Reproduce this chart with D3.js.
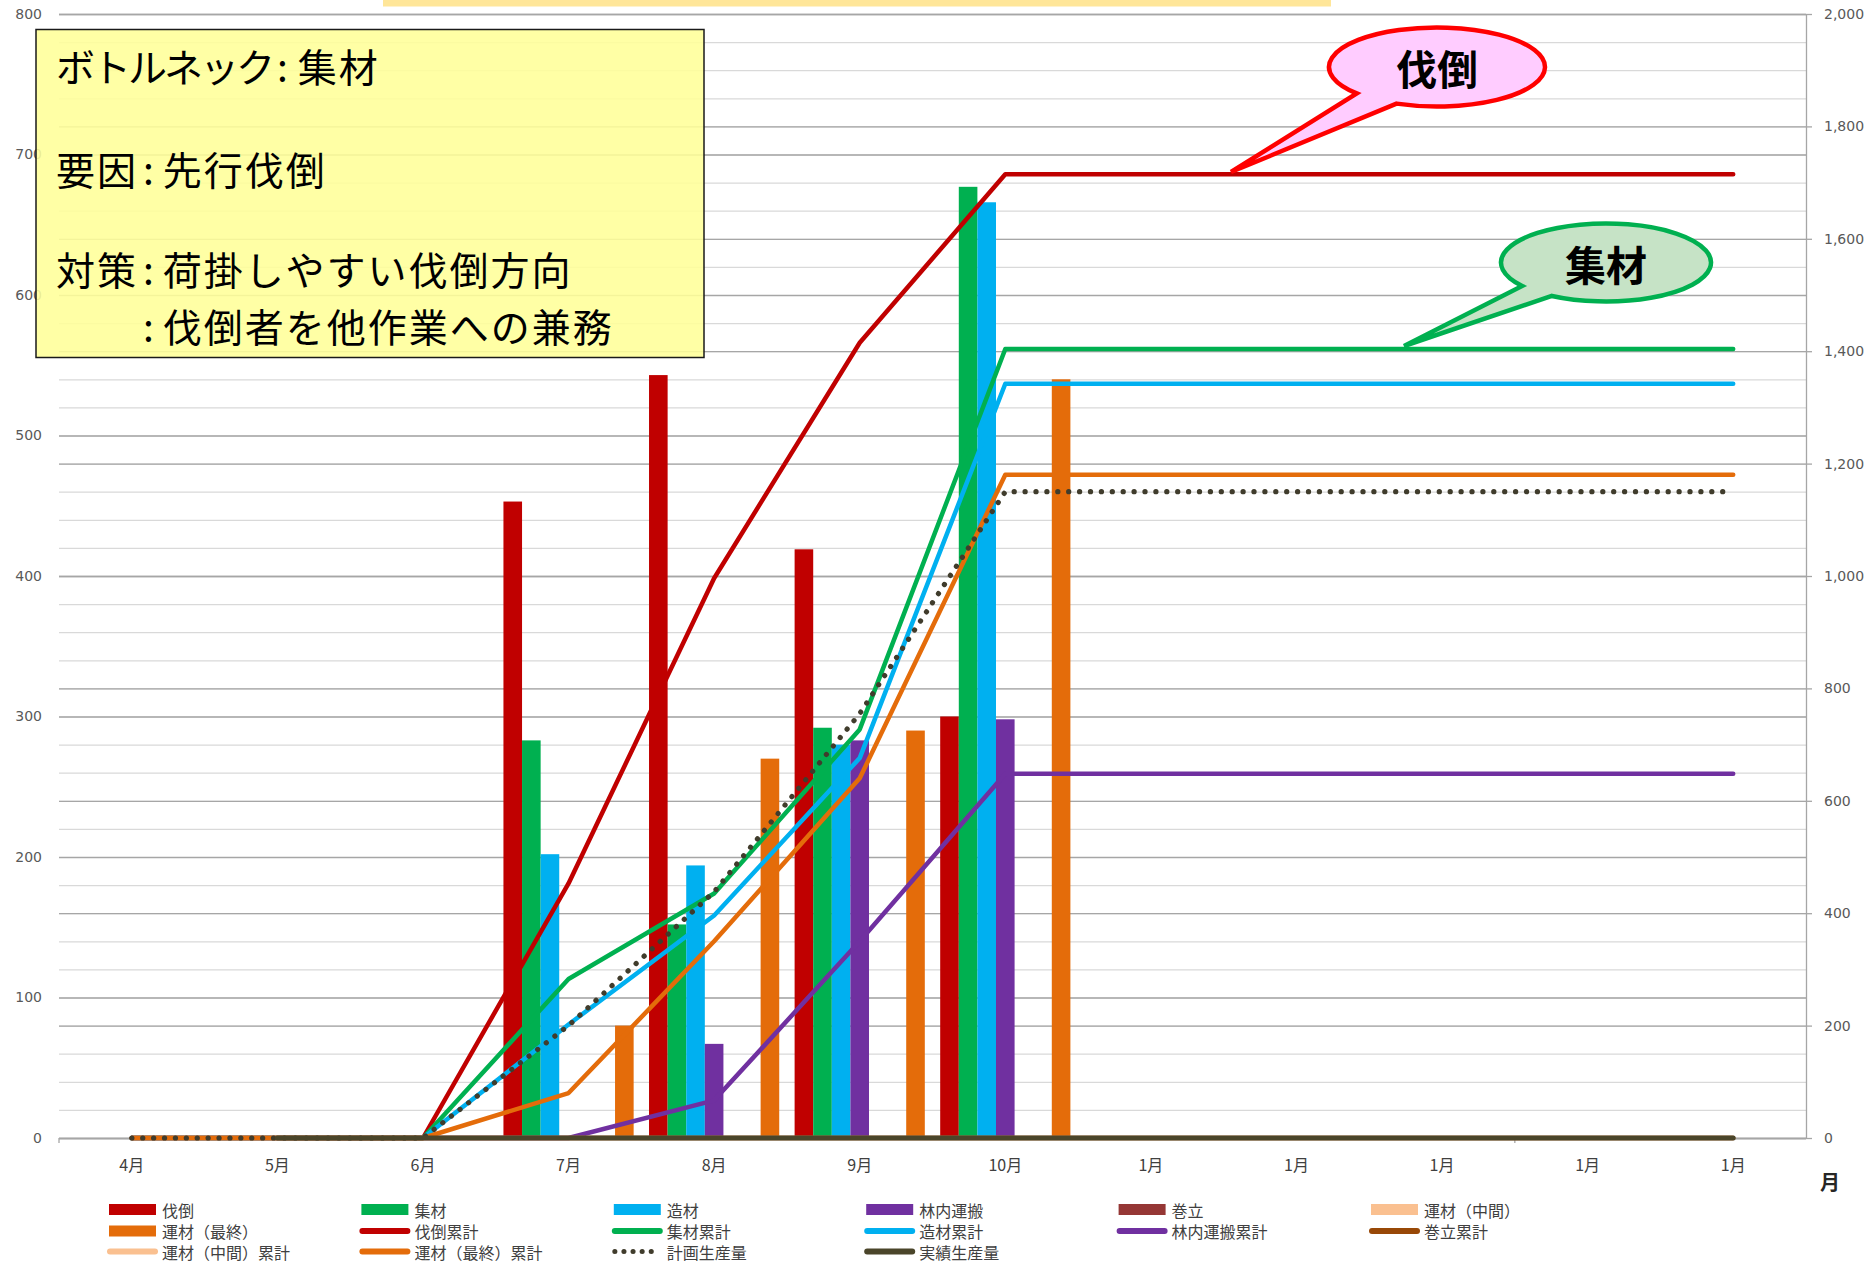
<!DOCTYPE html>
<html><head><meta charset="utf-8">
<script src="https://cdn.jsdelivr.net/npm/d3@7"></script>
<style>body{margin:0;background:#fff;} svg{display:block;}</style>
</head><body>
<svg id="c" width="1864" height="1269"></svg>
<script>
// ---- data ----
const categories = ["4月","5月","6月","7月","8月","9月","10月","1月","1月","1月","1月","1月"];
const barNames = ["伐倒","集材","造材","林内運搬","巻立","運材（中間）","運材（最終）"];
const barColors = ["#c00000","#00b050","#00b0f0","#7030a0","#953735","#fac090","#e46c0a"];
const fellBars     = [0,0,0,453,543,419,300,0,0,0,0,0];
const yardBars     = [0,0,0,283,152,292,677,0,0,0,0,0];
const processBars  = [0,0,0,202,194,280,666,0,0,0,0,0];
const forwardBars  = [0,0,0,0,67,283,298,0,0,0,0,0];
const pileBars     = [0,0,0,0,0,0,0,0,0,0,0,0];
const haulMidBars  = [0,0,0,0,0,0,0,0,0,0,0,0];
const haulFinBars  = [0,0,0,80,270,290,540,0,0,0,0,0];

const lineNames = ["伐倒累計","集材累計","造材累計","林内運搬累計","巻立累計","運材（中間）累計","運材（最終）累計","計画生産量","実績生産量"];
const lineColors = ["#c00000","#00b050","#00b0f0","#7030a0","#984807","#fac090","#e46c0a","#403c2c","#4a452a"];
const fellCum     = [0,0,0,453,996,1415,1715,1715,1715,1715,1715,1715];
const yardCum     = [0,0,0,283,435,727,1404,1404,1404,1404,1404,1404];
const processCum  = [0,0,0,202,396,676,1342,1342,1342,1342,1342,1342];
const forwardCum  = [0,0,0,0,67,350,648,648,648,648,648,648];
const pileCum     = [0,0,0,0,0,0,0,0,0,0,0,0];
const haulMidCum  = [0,0,0,0,0,0,0,0,0,0,0,0];
const haulFinCum  = [0,0,0,80,350,640,1180,1180,1180,1180,1180,1180];
const planned     = [0,0,0,200,438,755,1150,1150,1150,1150,1150,1150];
const actual      = [null,0,0,0,0,0,0,0,0,0,0,0];

const leftTicks = [0,100,200,300,400,500,600,700,800];
const rightTicks = [0,200,400,600,800,1000,1200,1400,1600,1800,2000];

const noteHeads = ["ボトルネック", "要因", "対策", "\u3000\u3000"];
const noteBodies = ["集材", "先行伐倒", "荷掛しやすい伐倒方向", "伐倒者を他作業への兼務"];

// ---- layout ----
const svg = d3.select("#c");
const L = 59, R = 1806, T = 14, B = 1138;
const x = d3.scaleBand().domain(d3.range(categories.length)).range([L, R]).padding(0);
const xc = i => x(i) + x.bandwidth() / 2;
const xs = d3.scaleBand().domain(d3.range(barNames.length)).range([-65.1, 65.1]).padding(0);
const yL = d3.scaleLinear().domain([0, 800]).range([B, T]);
const yR = d3.scaleLinear().domain([0, 2000]).range([B, T]);

// top band (cropped title)
svg.append("rect").attr("x", 383).attr("y", 0).attr("width", 948).attr("height", 6.5).attr("fill", "#ffe699");

// gridlines
const grid = svg.append("g");
grid.selectAll(".mn").data(d3.range(0, 801, 20)).join("line")
  .attr("x1", L).attr("x2", R).attr("y1", d => yL(d) + 0.5).attr("y2", d => yL(d) + 0.5)
  .attr("stroke", "#d9d9d9").attr("stroke-width", 1.2);
grid.selectAll(".mjL").data(leftTicks).join("line")
  .attr("x1", L).attr("x2", R).attr("y1", d => yL(d) + 0.5).attr("y2", d => yL(d) + 0.5)
  .attr("stroke", "#a6a6a6").attr("stroke-width", 1.3);
grid.selectAll(".mjR").data(rightTicks).join("line")
  .attr("x1", L).attr("x2", R).attr("y1", d => yR(d) + 0.5).attr("y2", d => yR(d) + 0.5)
  .attr("stroke", "#a6a6a6").attr("stroke-width", 1.3);

// x axis line + ticks
svg.append("line").attr("x1", L).attr("x2", R).attr("y1", B + 0.5).attr("y2", B + 0.5).attr("stroke", "#a6a6a6").attr("stroke-width", 1.3);
[0, 10].forEach(i => {
  svg.append("line").attr("x1", x(i)).attr("x2", x(i)).attr("y1", B).attr("y2", B + 5).attr("stroke", "#a6a6a6").attr("stroke-width", 1.3);
});

// left axis
const axL = svg.append("g").attr("transform", `translate(${L},0)`)
  .call(d3.axisLeft(yL).tickValues(leftTicks).tickSize(0).tickPadding(17));
axL.select(".domain").remove();
axL.selectAll("text").attr("font-family", "DejaVu Sans").attr("font-size", 14).attr("fill", "#595959");

// right axis
const axR = svg.append("g").attr("transform", `translate(${R},0)`)
  .call(d3.axisRight(yR).tickValues(rightTicks).tickSize(6).tickPadding(12).tickFormat(d3.format(",")));
axR.select(".domain").attr("stroke", "#a6a6a6").attr("stroke-width", 1.3).attr("d", `M0.5,${T}V${B}`);
axR.selectAll("line").attr("stroke", "#a6a6a6").attr("stroke-width", 1.3);
axR.selectAll("text").attr("font-family", "DejaVu Sans").attr("font-size", 14).attr("fill", "#595959");

// category labels
svg.append("g").selectAll("text").data(categories).join("text")
  .attr("x", (d, i) => xc(i)).attr("y", 1164).attr("text-anchor", "middle").attr("dominant-baseline", "central")
  .attr("font-family", "Noto Sans CJK JP").attr("font-size", 16).attr("fill", "#404040").text(d => d);
svg.append("text").attr("x", 1830).attr("y", 1181).attr("text-anchor", "middle").attr("dominant-baseline", "central")
  .attr("font-family", "Noto Sans CJK JP").attr("font-weight", 700).attr("font-size", 20).attr("fill", "#262626").text("月");

// bars
const barData = [fellBars, yardBars, processBars, forwardBars, pileBars, haulMidBars, haulFinBars];
const gb = svg.append("g");
barData.forEach((vals, s) => {
  gb.selectAll(null).data(vals.map((v, i) => ({v, i})).filter(d => d.v > 0)).join("rect")
    .attr("x", d => xc(d.i) + xs(s)).attr("width", xs.bandwidth())
    .attr("y", d => yL(d.v)).attr("height", d => yL(0) - yL(d.v))
    .attr("fill", barColors[s]);
});

// lines
const lineData = [fellCum, yardCum, processCum, forwardCum, pileCum, haulMidCum, haulFinCum, planned, actual];
const lineGen = d3.line().defined(d => d != null).x((d, i) => xc(i)).y(d => yR(d));
const gl = svg.append("g").attr("fill", "none");
lineData.forEach((vals, s) => {
  const p = gl.append("path").attr("d", lineGen(vals)).attr("stroke", lineColors[s])
    .attr("stroke-width", s === 8 ? 5 : 4.5).attr("stroke-linecap", "round").attr("stroke-linejoin", "round");
  if (s === 7) p.attr("stroke-dasharray", "0.1 10.8").attr("stroke-width", 5.2);
});

// note box
svg.append("rect").attr("x", 36).attr("y", 29.5).attr("width", 668).attr("height", 328)
  .attr("fill", "#ffff99").attr("fill-opacity", 0.88).attr("stroke", "#1a1a1a").attr("stroke-width", 1.5);
const noteY = [64.5, 168, 268, 325];
noteHeads.forEach((h, i) => {
  const el = svg.append("text").attr("x", 56).attr("y", noteY[i]).attr("dominant-baseline", "central")
    .attr("font-family", "Noto Sans CJK JP").attr("font-size", 39).attr("fill", "#000").style("white-space", "pre");
  el.append("tspan").attr("letter-spacing", i === 0 ? -3 : 2).text(h);
  el.append("tspan").attr("dx", 5).attr("letter-spacing", 2).text(":");
  el.append("tspan").attr("dx", i === 0 ? 8 : 7).attr("letter-spacing", 2).text(noteBodies[i]);
});

// callouts
function callout(cx, cy, rx, ry, t1, t2, tip, fill, stroke, label) {
  const P = t => [cx + rx * Math.cos(t * Math.PI / 180), cy + ry * Math.sin(t * Math.PI / 180)];
  const a = P(t2), b = P(t1);
  const d = `M${a[0]},${a[1]} A${rx},${ry} 0 1 0 ${b[0]},${b[1]} L${tip[0]},${tip[1]} Z`;
  svg.append("path").attr("d", d).attr("fill", fill).attr("stroke", stroke).attr("stroke-width", 4.5).attr("stroke-linejoin", "miter");
  svg.append("text").attr("x", cx).attr("y", cy).attr("text-anchor", "middle").attr("dominant-baseline", "central")
    .attr("font-family", "Noto Sans CJK JP").attr("font-weight", 700).attr("font-size", 41).attr("fill", "#000").text(label);
}
callout(1437, 67, 108, 39.5, 138, 112, [1231, 172], "#ffccff", "#ff0000", "伐倒");
callout(1606, 262.5, 105, 39, 143, 121, [1404, 346], "#c6e3c6", "#00b050", "集材");

// legend
const legendItems = [];
barNames.forEach((n, i) => legendItems.push({name: n, color: barColors[i], type: "bar"}));
lineNames.forEach((n, i) => legendItems.push({name: n, color: lineColors[i], type: i === 7 ? "dot" : "line"}));
const lg = svg.append("g");
legendItems.forEach((it, k) => {
  const col = k % 6, row = Math.floor(k / 6);
  const x0 = 109 + col * 252.4, y0 = [1209.5, 1231, 1251.5][row];
  if (it.type === "bar") {
    lg.append("rect").attr("x", x0).attr("y", y0 - 5.5).attr("width", 47).attr("height", 11).attr("fill", it.color);
  } else {
    const ln = lg.append("line").attr("x1", x0 + 1).attr("x2", x0 + 46).attr("y1", y0).attr("y2", y0)
      .attr("stroke", it.color).attr("stroke-width", 6).attr("stroke-linecap", "round");
    if (it.type === "dot") ln.attr("stroke-dasharray", "0.1 9").attr("stroke-width", 5);
  }
  lg.append("text").attr("x", x0 + 53).attr("y", y0).attr("dominant-baseline", "central")
    .attr("font-family", "Noto Sans CJK JP").attr("font-size", 16).attr("fill", "#404040").text(it.name);
});
</script>
</body></html>
